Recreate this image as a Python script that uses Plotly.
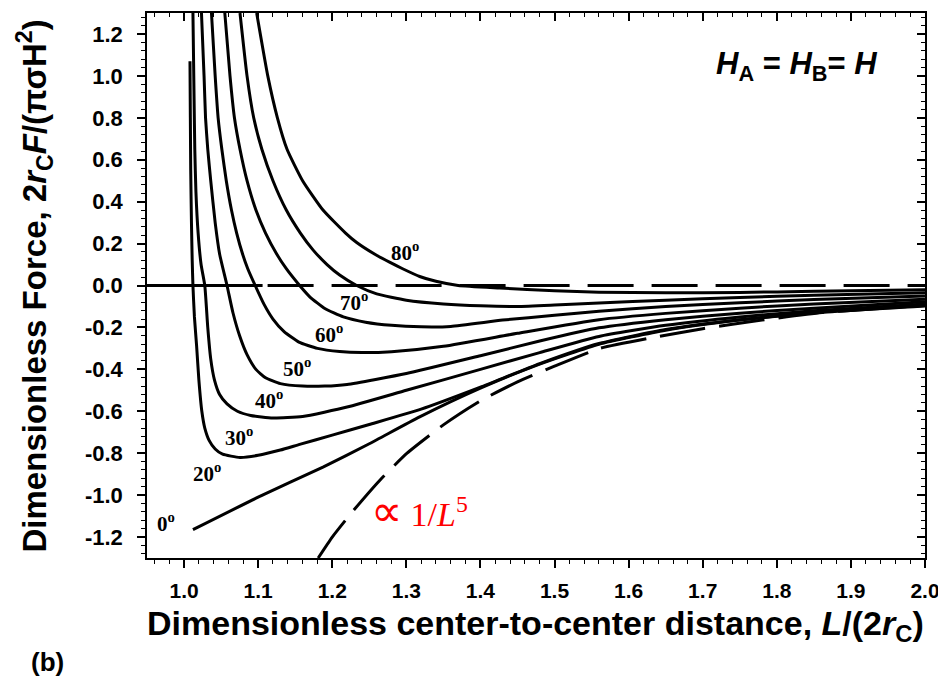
import plotly.graph_objects as go

# ---------------- data ----------------
x_0 = [1.012, 1.10, 1.1875, 1.25, 1.318, 1.40, 1.48, 1.56, 1.65, 1.75, 1.85, 2.0]
y_0 = [-1.165, -1.01, -0.866, -0.755, -0.627, -0.49, -0.375, -0.28, -0.213, -0.165, -0.131, -0.098]

x_20 = [1.008, 1.0085, 1.009, 1.010, 1.011, 1.012, 1.014, 1.017, 1.020, 1.024, 1.028, 1.034, 1.042, 1.052,
        1.0755, 1.10, 1.13, 1.156, 1.20, 1.25, 1.32, 1.40, 1.48, 1.56, 1.65, 1.75, 1.85, 2.0]
y_20 = [1.07, 0.80, 0.55, 0.30, 0.12, 0.0, -0.15, -0.29, -0.45, -0.60, -0.68, -0.74, -0.78, -0.805,
        -0.82, -0.81, -0.785, -0.758, -0.714, -0.663, -0.59, -0.485, -0.373, -0.277, -0.21, -0.163, -0.129, -0.096]

x_30 = [1.012, 1.0135, 1.0145, 1.016, 1.019, 1.023, 1.028, 1.032, 1.036, 1.041, 1.048, 1.058, 1.072, 1.09,
        1.12, 1.16, 1.22, 1.30, 1.40, 1.48, 1.56, 1.65, 1.75, 1.85, 2.0]
y_30 = [1.30, 0.90, 0.65, 0.45, 0.25, 0.10, 0.0, -0.20, -0.35, -0.45, -0.52, -0.565, -0.60, -0.62,
        -0.632, -0.625, -0.58, -0.50, -0.40, -0.32, -0.243, -0.19, -0.15, -0.12, -0.088]

x_40 = [1.0235, 1.027, 1.029, 1.032, 1.036, 1.042, 1.048, 1.058, 1.066, 1.075, 1.085, 1.097, 1.11, 1.13,
        1.16, 1.19, 1.22, 1.30, 1.40, 1.48, 1.56, 1.65, 1.75, 1.85, 2.0]
y_40 = [1.30, 1.00, 0.80, 0.65, 0.50, 0.30, 0.15, 0.0, -0.13, -0.24, -0.33, -0.40, -0.44, -0.468,
        -0.48, -0.48, -0.472, -0.42, -0.335, -0.265, -0.202, -0.163, -0.132, -0.108, -0.078]

x_50 = [1.037, 1.042, 1.046, 1.051, 1.057, 1.064, 1.071, 1.079, 1.086, 1.096, 1.108, 1.12, 1.135, 1.155,
        1.18, 1.21, 1.24, 1.28, 1.35, 1.45, 1.56, 1.65, 1.75, 1.85, 2.0]
y_50 = [1.30, 1.00, 0.80, 0.65, 0.50, 0.36, 0.25, 0.15, 0.08, 0.0, -0.09, -0.16, -0.22, -0.27,
        -0.30, -0.315, -0.32, -0.316, -0.29, -0.228, -0.163, -0.133, -0.108, -0.088, -0.065]

x_60 = [1.055, 1.062, 1.068, 1.0755, 1.085, 1.097, 1.11, 1.125, 1.138, 1.156, 1.17, 1.19, 1.215, 1.245,
        1.28, 1.32, 1.36, 1.43, 1.50, 1.56, 1.65, 1.75, 1.85, 2.0]
y_60 = [1.30, 1.00, 0.80, 0.65, 0.50, 0.36, 0.25, 0.15, 0.08, 0.0, -0.055, -0.11, -0.15, -0.175,
        -0.19, -0.197, -0.195, -0.165, -0.142, -0.123, -0.10, -0.082, -0.067, -0.05]

x_70 = [1.0755, 1.085, 1.094, 1.105, 1.12, 1.138, 1.157, 1.174, 1.193, 1.21, 1.233, 1.26, 1.30, 1.35,
        1.40, 1.45, 1.50, 1.56, 1.65, 1.75, 1.85, 2.0]
y_70 = [1.30, 1.00, 0.80, 0.65, 0.50, 0.36, 0.25, 0.17, 0.10, 0.05, 0.0, -0.04, -0.07, -0.088,
        -0.097, -0.10, -0.093, -0.083, -0.07, -0.057, -0.046, -0.035]

x_80 = [1.098, 1.113, 1.126, 1.139, 1.16, 1.1875, 1.218, 1.233, 1.257, 1.278, 1.295, 1.318, 1.34, 1.37,
        1.426, 1.50, 1.56, 1.65, 1.75, 1.85, 2.0]
y_80 = [1.30, 1.00, 0.80, 0.65, 0.50, 0.36, 0.25, 0.205, 0.15, 0.11, 0.08, 0.043, 0.02, 0.0,
        -0.012, -0.025, -0.032, -0.035, -0.033, -0.028, -0.02]

x_inv5 = [1.181, 1.20, 1.227, 1.264, 1.301, 1.35, 1.40, 1.45, 1.50, 1.561, 1.63, 1.70, 1.78, 1.861, 1.939, 2.0]
y_inv5 = [-1.30, -1.20, -1.08, -0.93, -0.80, -0.665, -0.55, -0.46, -0.385, -0.30, -0.25, -0.206, -0.165, -0.129, -0.110, -0.093]

x_zero_solid = [0.95, 1.106]
x_zero_dash = [1.106, 2.0]
y_zero = [0.0, 0.0]

label_text = ["0<sup>o</sup>", "20<sup>o</sup>", "30<sup>o</sup>", "40<sup>o</sup>",
              "50<sup>o</sup>", "60<sup>o</sup>", "70<sup>o</sup>", "80<sup>o</sup>"]
label_x = [0.976, 1.031, 1.074, 1.115, 1.152, 1.196, 1.229, 1.298]
label_y = [-1.13, -0.89, -0.72, -0.545, -0.39, -0.23, -0.077, 0.163]

x_tick_vals = [1.0, 1.1, 1.2, 1.3, 1.4, 1.5, 1.6, 1.7, 1.8, 1.9, 2.0]
x_tick_text = ["1.0", "1.1", "1.2", "1.3", "1.4", "1.5", "1.6", "1.7", "1.8", "1.9", "2.0"]
y_tick_vals = [-1.2, -1.0, -0.8, -0.6, -0.4, -0.2, 0.0, 0.2, 0.4, 0.6, 0.8, 1.0, 1.2]
y_tick_text = ["-1.2", "-1.0", "-0.8", "-0.6", "-0.4", "-0.2", "0.0", "0.2", "0.4", "0.6", "0.8", "1.0", "1.2"]

# ---------------- figure ----------------
fig = go.Figure()
LW = 3
black = "black"

for xs, ys in [(x_0, y_0), (x_20, y_20), (x_30, y_30), (x_40, y_40), (x_50, y_50),
               (x_60, y_60), (x_70, y_70), (x_80, y_80)]:
    fig.add_trace(go.Scatter(x=xs, y=ys, mode="lines",
                             line=dict(color=black, width=LW, shape="spline", smoothing=0.5),
                             showlegend=False, hoverinfo="skip"))

fig.add_trace(go.Scatter(x=x_inv5, y=y_inv5, mode="lines",
                         line=dict(color=black, width=LW, dash="46px,14px", shape="spline", smoothing=0.5),
                         showlegend=False, hoverinfo="skip"))
fig.add_trace(go.Scatter(x=x_zero_solid, y=y_zero, mode="lines", line=dict(color=black, width=LW),
                         showlegend=False, hoverinfo="skip"))
fig.add_trace(go.Scatter(x=x_zero_dash, y=y_zero, mode="lines",
                         line=dict(color=black, width=LW, dash="0px,5px,46px,13px"),
                         showlegend=False, hoverinfo="skip"))
# invisible trace to anchor the mirrored axes
fig.add_trace(go.Scatter(x=[1.5], y=[0], xaxis="x2", yaxis="y2", mode="markers",
                         marker=dict(opacity=0), showlegend=False, hoverinfo="skip"))

SANS = "Liberation Sans, Arial"
SERIF = "Liberation Serif, Times New Roman"

# page body has an 8px margin -> figure is drawn 8px in and 8px down
fig.update_layout(
    width=938, height=678,
    margin=dict(l=139, r=21, t=5, b=128),
    paper_bgcolor="white", plot_bgcolor="white",
    xaxis=dict(range=[0.95, 2.0], tickvals=x_tick_vals, ticktext=["<b>" + t + "</b>" for t in x_tick_text],
               ticks="outside", ticklen=8, tickwidth=1.5, tickcolor=black,
               showline=True, linecolor=black, linewidth=1.5, showgrid=False, zeroline=False,
               tickfont=dict(family=SANS, size=21, color=black), ticklabelstandoff=5,
               minor=dict(dtick=0.02, tick0=1.0, ticks="outside", ticklen=4, tickwidth=1, tickcolor=black)),
    yaxis=dict(range=[-1.3, 1.3], tickvals=y_tick_vals, ticktext=["<b>" + t + "</b>" for t in y_tick_text],
               ticks="outside", ticklen=8, tickwidth=1.5, tickcolor=black,
               showline=True, linecolor=black, linewidth=1.5, showgrid=False, zeroline=False,
               tickfont=dict(family=SANS, size=22, color=black), ticklabelstandoff=10,
               minor=dict(dtick=0.04, tick0=0.0, ticks="outside", ticklen=4, tickwidth=1, tickcolor=black)),
    xaxis2=dict(range=[0.95, 2.0], overlaying="x", side="top", anchor="y",
                tickvals=x_tick_vals, ticks="inside", ticklen=8, tickwidth=1.5, tickcolor=black,
                showticklabels=False, showline=True, linecolor=black, linewidth=1.5, showgrid=False, zeroline=False,
                minor=dict(dtick=0.02, tick0=1.0, ticks="inside", ticklen=4, tickwidth=1, tickcolor=black)),
    yaxis2=dict(range=[-1.3, 1.3], overlaying="y", side="right", anchor="x",
                tickvals=y_tick_vals, ticks="inside", ticklen=8, tickwidth=1.5, tickcolor=black,
                showticklabels=False, showline=True, linecolor=black, linewidth=1.5, showgrid=False, zeroline=False,
                minor=dict(dtick=0.04, tick0=0.0, ticks="inside", ticklen=4, tickwidth=1, tickcolor=black)),
)

# curve labels
for t, lx, ly in zip(label_text, label_x, label_y):
    fig.add_annotation(x=lx, y=ly, text="<b>" + t + "</b>", showarrow=False,
                       xanchor="center", yanchor="middle",
                       font=dict(family=SERIF, size=21, color=black))

fig.add_annotation(x=1.318, y=-1.08,
                   text="<span style='font-size:44px'>∝</span> 1/<i>L</i><sup>5</sup>", showarrow=False,
                   xanchor="center", yanchor="middle",
                   font=dict(family=SERIF, size=34, color="red"))

fig.add_annotation(x=1.826, y=1.048, text="<b><i>H</i><sub>A</sub> = <i>H</i><sub>B</sub>= <i>H</i></b>",
                   showarrow=False, xanchor="center", yanchor="middle",
                   font=dict(family=SANS, size=31, color=black))

# axis titles
fig.add_annotation(xref="paper", yref="paper", x=0.499, y=-0.123, xanchor="center", yanchor="middle",
                   text="<b>Dimensionless center-to-center distance, <i>L</i>/(2<i>r</i><sub>C</sub>)</b>",
                   showarrow=False, font=dict(family=SANS, size=34, color=black))
fig.add_annotation(xref="paper", yref="paper", x=-0.144, y=0.5, textangle=-90,
                   xanchor="center", yanchor="middle",
                   text="<b>Dimensionless Force, 2<i>r</i><sub>C</sub><i>F</i>/(πσH<sup>2</sup>)</b>",
                   showarrow=False, font=dict(family=SANS, size=33, color=black))
fig.add_annotation(xref="paper", yref="paper", x=-0.1285, y=-0.191, xanchor="center", yanchor="middle",
                   text="<b>(b)</b>", showarrow=False, font=dict(family=SANS, size=26, color=black))

fig.write_html("out.html")
